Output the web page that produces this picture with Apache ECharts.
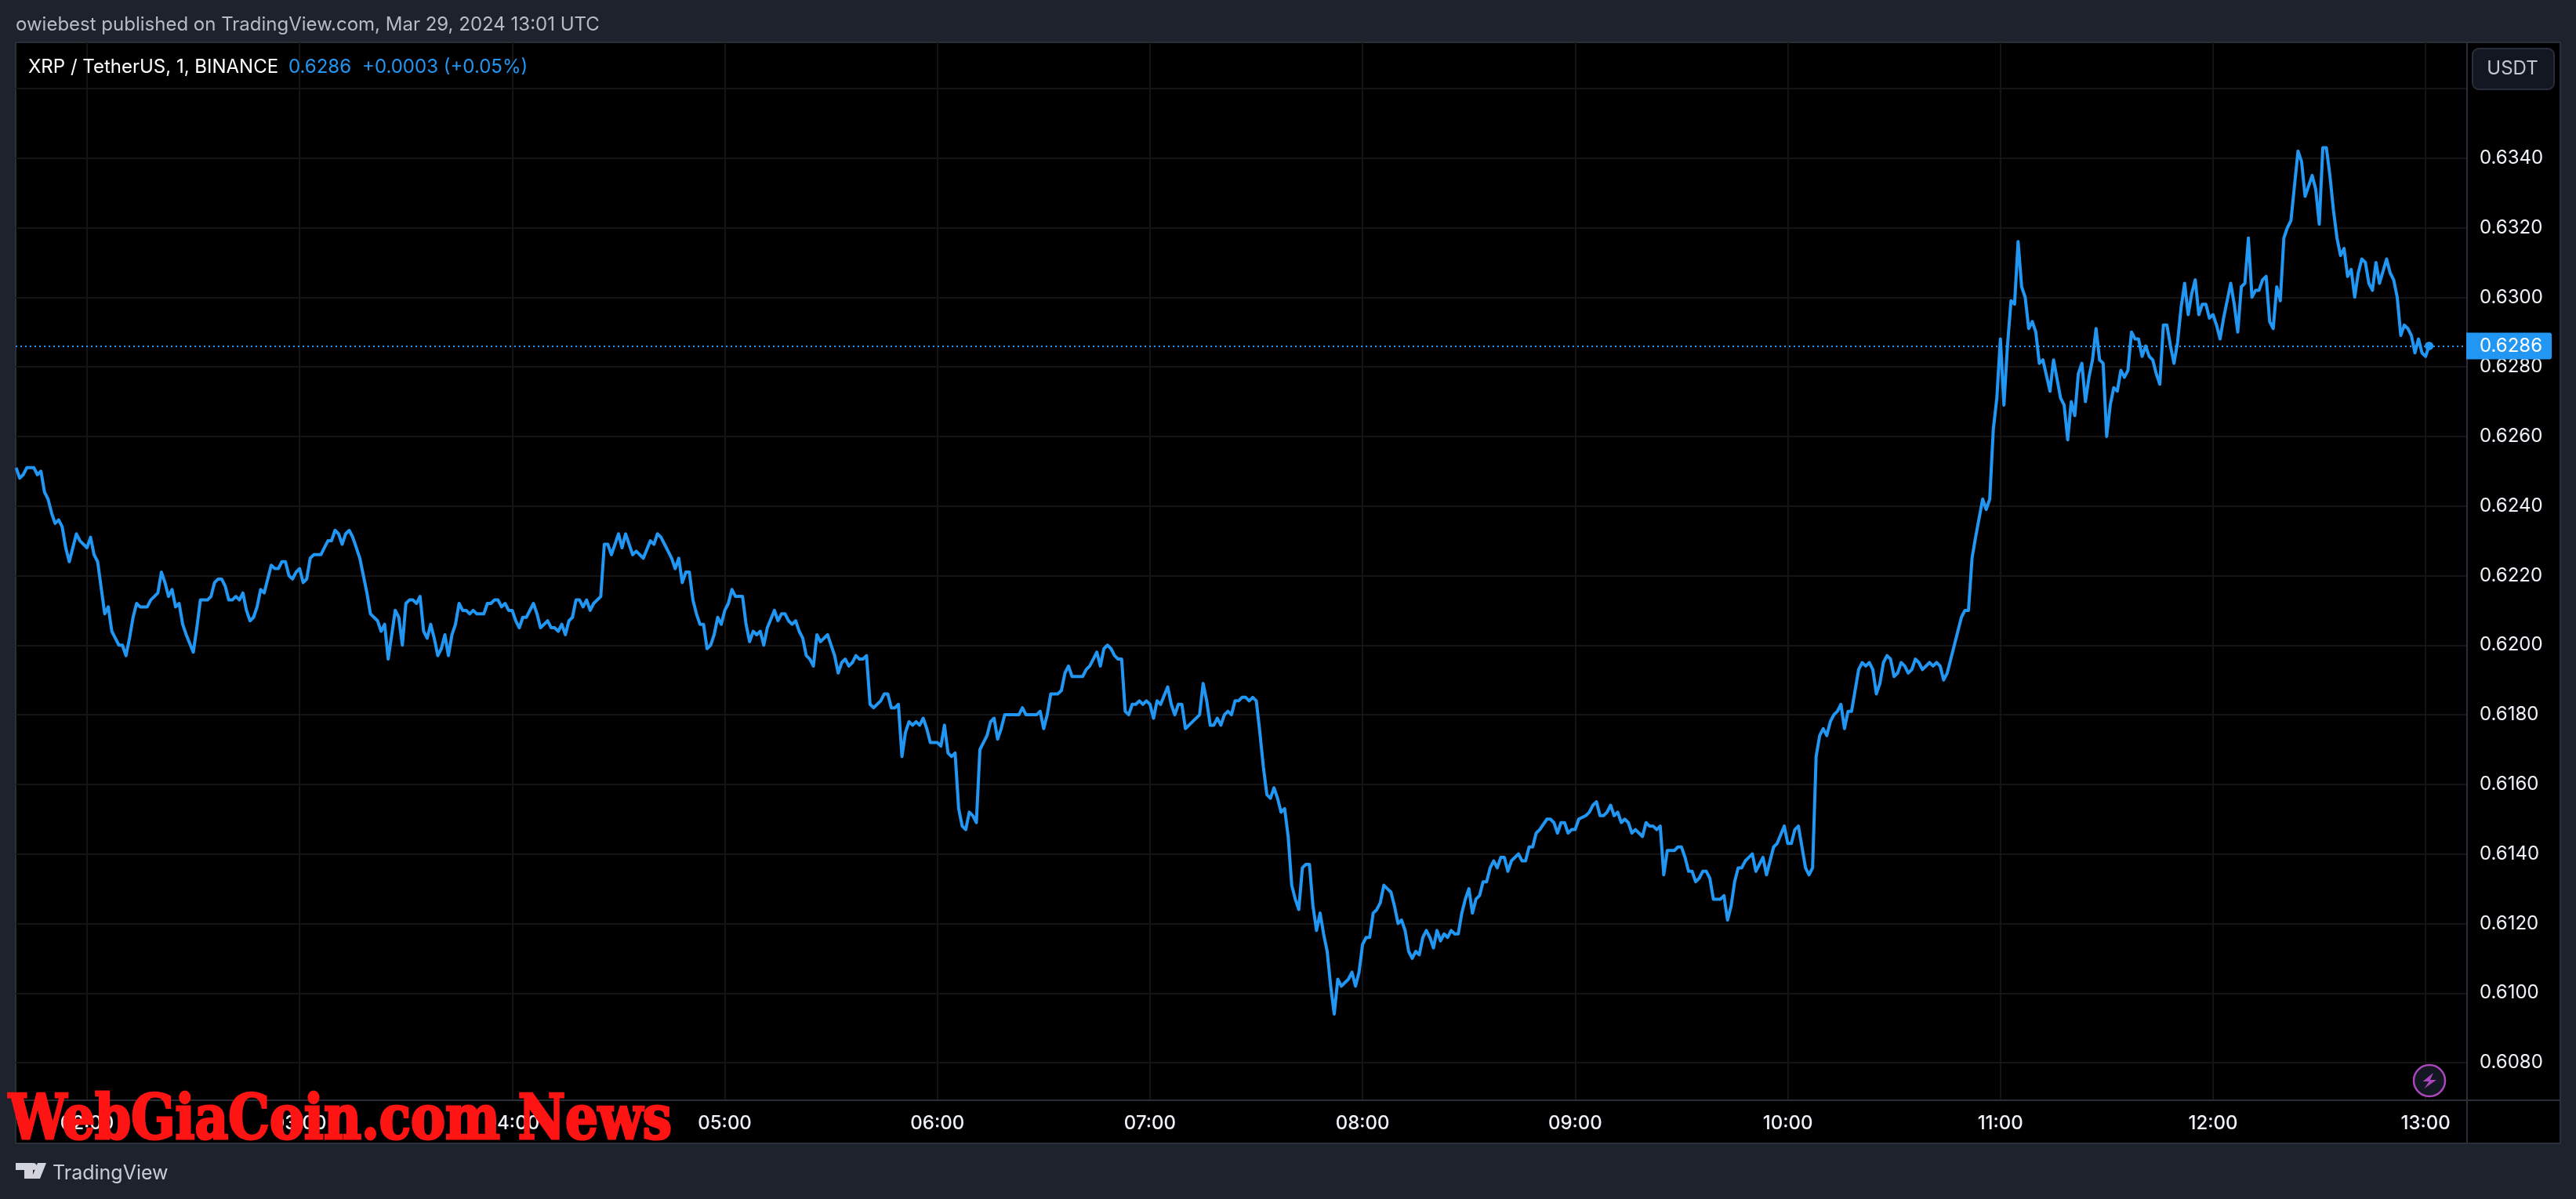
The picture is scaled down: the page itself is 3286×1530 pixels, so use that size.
<!DOCTYPE html>
<html>
<head>
<meta charset="utf-8">
<title>XRP / TetherUS</title>
<script src="https://cdn.jsdelivr.net/npm/echarts@6/dist/echarts.min.js"></script>
<style>
  html, body { margin: 0; padding: 0; background: #1e222d; }
  #chart { width: 3286px; height: 1530px; }
</style>
</head>
<body>
<div id="chart"></div>
<script>
// [minutes since 00:00, close]
const closes = [
  [100,.6251],[101,.6248],[102,.6249],[103,.6251],[105,.6251],[106,.6249],[107,.6250],[108,.6244],[109,.6242],[110,.6238],
  [111,.6235],[112,.6236],[113,.6234],[114,.6228],[115,.6224],[116,.6228],[117,.6232],[118,.6230],[119,.6229],[120,.6228],
  [121,.6231],[122,.6226],[123,.6224],[125,.6209],[126,.6211],[127,.6204],[128,.6202],[129,.6200],[130,.6200],[131,.6197],
  [132,.6202],[133,.6208],[134,.6212],[135,.6211],[137,.6211],[138,.6213],[140,.6215],[141,.6221],[142,.6218],[143,.6214],
  [144,.6216],[145,.6211],[146,.6212],[147,.6206],[148,.6203],[150,.6198],[151,.6205],[152,.6213],[154,.6213],[155,.6214],
  [156,.6218],[157,.6219],[158,.6219],[159,.6217],[160,.6213],[161,.6213],[162,.6214],[163,.6213],[164,.6215],[165,.6210],
  [166,.6207],[167,.6208],[168,.6211],[169,.6216],[170,.6215],[172,.6223],[173,.6222],[174,.6222],[175,.6224],[176,.6224],
  [177,.6220],[178,.6219],[179,.6221],[180,.6222],[181,.6218],[182,.6219],[183,.6225],[184,.6226],[186,.6226],[187,.6228],
  [188,.6230],[189,.6230],[190,.6233],[191,.6232],[192,.6229],[193,.6232],[194,.6233],[195,.6231],[196,.6228],[197,.6225],
  [198,.6220],[199,.6215],[200,.6209],[201,.6208],[202,.6207],[203,.6204],[204,.6206],[205,.6196],[207,.6210],[208,.6208],
  [209,.6200],[210,.6212],[211,.6213],[212,.6213],[213,.6212],[214,.6214],[215,.6204],[216,.6202],[217,.6206],[218,.6202],
  [219,.6197],[220,.6199],[221,.6203],[222,.6197],[223,.6203],[224,.6206],[225,.6212],[226,.6210],[227,.6210],[228,.6209],
  [229,.6210],[230,.6209],[232,.6209],[233,.6212],[234,.6212],[235,.6213],[236,.6213],[237,.6211],[238,.6212],[239,.6210],
  [240,.6210],[241,.6207],[242,.6205],[243,.6208],[244,.6208],[246,.6212],[247,.6209],[248,.6205],[250,.6207],[251,.6205],
  [252,.6205],[253,.6204],[254,.6206],[255,.6203],[256,.6207],[257,.6208],[258,.6213],[259,.6213],[260,.6211],[261,.6213],
  [262,.6210],[263,.6212],[265,.6214],[266,.6229],[267,.6229],[268,.6226],[269,.6229],[270,.6232],[271,.6228],[272,.6232],
  [274,.6226],[275,.6227],[277,.6225],[279,.6230],[280,.6229],[281,.6232],[282,.6231],[283,.6229],[285,.6225],[286,.6222],
  [287,.6225],[288,.6218],[289,.6221],[290,.6221],[291,.6213],[292,.6209],[293,.6206],[294,.6206],[295,.6199],[296,.6200],
  [297,.6203],[298,.6208],[299,.6206],[300,.6210],[301,.6212],[302,.6216],[303,.6214],[305,.6214],[306,.6206],[307,.6201],
  [308,.6204],[309,.6203],[310,.6204],[311,.6200],[312,.6205],[314,.6210],[315,.6207],[316,.6209],[317,.6209],[318,.6207],
  [319,.6206],[320,.6207],[321,.6204],[322,.6202],[323,.6197],[324,.6196],[325,.6194],[326,.6203],[327,.6201],[329,.6203],
  [331,.6197],[332,.6192],[333,.6195],[334,.6196],[335,.6194],[336,.6195],[337,.6197],[338,.6196],[339,.6196],[340,.6197],
  [341,.6183],[342,.6182],[344,.6184],[345,.6186],[346,.6186],[347,.6182],[348,.6182],[349,.6183],[350,.6168],[351,.6175],
  [352,.6178],[353,.6177],[354,.6178],[355,.6177],[356,.6179],[357,.6176],[358,.6172],[360,.6172],[361,.6171],[362,.6177],
  [363,.6169],[364,.6168],[365,.6169],[366,.6153],[367,.6148],[368,.6147],[369,.6152],[370,.6151],[371,.6149],[372,.6170],
  [373,.6172],[374,.6174],[375,.6178],[376,.6179],[377,.6173],[378,.6176],[379,.6180],[383,.6180],[384,.6182],[385,.6180],
  [388,.6180],[389,.6181],[390,.6176],[391,.6180],[392,.6186],[394,.6186],[395,.6187],[396,.6192],[397,.6194],[398,.6191],
  [401,.6191],[402,.6193],[403,.6194],[404,.6196],[405,.6198],[406,.6194],[407,.6199],[408,.6200],[409,.6199],[410,.6197],
  [411,.6196],[412,.6196],[413,.6181],[414,.6180],[415,.6183],[416,.6183],[417,.6184],[418,.6183],[419,.6184],[420,.6183],
  [421,.6179],[422,.6184],[423,.6183],[425,.6188],[426,.6183],[427,.6180],[428,.6183],[429,.6183],[430,.6176],[431,.6177],
  [434,.6180],[435,.6189],[436,.6184],[437,.6177],[438,.6177],[439,.6179],[440,.6177],[441,.6180],[442,.6181],[443,.6180],
  [444,.6184],[445,.6184],[446,.6185],[447,.6185],[448,.6184],[449,.6185],[450,.6184],[451,.6175],[452,.6165],[453,.6157],
  [454,.6156],[455,.6159],[456,.6156],[457,.6152],[458,.6153],[459,.6145],[460,.6131],[461,.6127],[462,.6124],[463,.6136],
  [464,.6137],[465,.6137],[466,.6125],[467,.6118],[468,.6123],[469,.6117],[470,.6112],[471,.6102],[472,.6094],[473,.6104],
  [474,.6102],[476,.6104],[477,.6106],[478,.6102],[479,.6106],[480,.6114],[481,.6116],[482,.6116],[483,.6123],[484,.6124],
  [485,.6126],[486,.6131],[487,.6130],[488,.6129],[489,.6125],[490,.6120],[491,.6121],[492,.6118],[493,.6112],[494,.6110],
  [495,.6112],[496,.6111],[497,.6116],[498,.6118],[499,.6116],[500,.6113],[501,.6118],[502,.6115],[503,.6117],[504,.6116],
  [505,.6118],[506,.6117],[507,.6117],[508,.6123],[509,.6127],[510,.6130],[511,.6123],[512,.6127],[513,.6128],[514,.6132],
  [515,.6132],[516,.6136],[517,.6138],[518,.6136],[519,.6139],[520,.6139],[521,.6135],[522,.6138],[524,.6140],[525,.6138],
  [526,.6138],[527,.6142],[528,.6142],[529,.6146],[530,.6147],[532,.6150],[533,.6150],[534,.6149],[535,.6146],[536,.6149],
  [537,.6149],[538,.6146],[539,.6147],[540,.6147],[541,.6150],[543,.6151],[544,.6152],[545,.6154],[546,.6155],[547,.6151],
  [548,.6151],[549,.6152],[550,.6154],[551,.6151],[552,.6152],[553,.6149],[554,.6150],[555,.6149],[556,.6146],[557,.6147],
  [558,.6146],[559,.6145],[560,.6149],[561,.6148],[562,.6148],[563,.6147],[564,.6148],[565,.6134],[566,.6141],[568,.6141],
  [569,.6142],[570,.6142],[571,.6139],[572,.6135],[573,.6135],[574,.6132],[575,.6133],[576,.6135],[577,.6135],[578,.6133],
  [579,.6127],[581,.6127],[582,.6128],[583,.6121],[584,.6125],[585,.6132],[586,.6136],[587,.6136],[588,.6138],[589,.6139],
  [590,.6140],[591,.6135],[593,.6139],[594,.6134],[596,.6142],[597,.6143],[599,.6148],[600,.6143],[601,.6143],[602,.6147],
  [603,.6148],[604,.6142],[605,.6136],[606,.6134],[607,.6136],[608,.6168],[609,.6174],[610,.6176],[611,.6174],[612,.6178],
  [613,.6180],[614,.6181],[615,.6183],[616,.6176],[617,.6181],[618,.6181],[620,.6193],[621,.6195],[622,.6194],[623,.6195],
  [624,.6193],[625,.6186],[626,.6189],[627,.6195],[628,.6197],[629,.6196],[630,.6191],[631,.6192],[632,.6195],[633,.6194],
  [634,.6192],[635,.6193],[636,.6196],[637,.6195],[638,.6193],[640,.6195],[641,.6194],[642,.6195],[643,.6194],[644,.6190],
  [645,.6192],[646,.6196],[648,.6204],[649,.6208],[650,.6210],[651,.6210],[652,.6225],[653,.6231],[655,.6242],[656,.6239],
  [657,.6242],[658,.6262],[659,.6271],[660,.6288],[661,.6269],[662,.6286],[663,.6299],[664,.6298],[665,.6316],[666,.6303],
  [667,.6300],[668,.6291],[669,.6293],[670,.6290],[671,.6281],[672,.6282],[674,.6273],[675,.6282],[677,.6271],[678,.6269],
  [679,.6259],[680,.6270],[681,.6266],[682,.6278],[683,.6281],[684,.6270],[685,.6277],[686,.6282],[687,.6291],[688,.6282],
  [689,.6281],[690,.6260],[691,.6269],[692,.6274],[693,.6273],[694,.6279],[695,.6277],[696,.6279],[697,.6290],[698,.6288],
  [699,.6288],[700,.6283],[701,.6286],[702,.6283],[703,.6282],[704,.6278],[705,.6275],[706,.6292],[707,.6292],[708,.6286],
  [709,.6281],[710,.6287],[711,.6297],[712,.6304],[713,.6295],[714,.6301],[715,.6305],[716,.6295],[717,.6298],[718,.6298],
  [719,.6294],[720,.6295],[721,.6292],[722,.6288],[723,.6294],[725,.6304],[726,.6298],[727,.6290],[728,.6303],[729,.6304],
  [730,.6317],[731,.6300],[732,.6302],[733,.6302],[734,.6305],[735,.6306],[736,.6293],[737,.6291],[738,.6303],[739,.6299],
  [740,.6317],[741,.6320],[742,.6322],[744,.6342],[745,.6339],[746,.6329],[747,.6332],[748,.6335],[749,.6331],[750,.6321],
  [751,.6343],[752,.6343],[753,.6335],[754,.6325],[755,.6317],[756,.6312],[757,.6314],[758,.6306],[759,.6308],[760,.6300],
  [761,.6307],[762,.6311],[763,.6310],[764,.6304],[765,.6302],[766,.6310],[767,.6304],[769,.6311],[770,.6307],[771,.6305],
  [772,.6300],[773,.6289],[774,.6292],[775,.6291],[776,.6289],[777,.6284],[778,.6288],[779,.6284],[780,.6283],[781,.6286]
];
const hourTicks = [120, 180, 240, 300, 360, 420, 480, 540, 600, 660, 720, 780];
const priceTicks = [.608, .61, .612, .614, .616, .618, .62, .622, .624, .626, .628, .63, .632, .634, .636];
const lastPrice = .6286;
const lastMinute = 781;

const BLUE = '#2196f3';
const GRID = '#141414';
const BORDER = '#2a2e39';
const FONT = 'Inter';

const pad = (n) => String(n).padStart(2, '0');

function headerText(x, y, text, fill, fontSize, extra) {
  return {
    type: 'text',
    z: 60,
    x,
    y,
    style: Object.assign({
      text,
      fill,
      font: `400 ${fontSize}px ${FONT}`,
      textVerticalAlign: 'middle',
    }, extra),
  };
}

let chart = echarts.init(document.getElementById('chart'), null, { renderer: 'canvas' });

let option = {
  animation: false,
  backgroundColor: '#1e222d',
  grid: { left: 20, right: 139, top: 54, bottom: 126 },
  xAxis: {
    type: 'value',
    min: 99.87,
    max: 791.7,
    axisLine: { show: false },
    axisTick: { show: false, customValues: hourTicks },
    splitLine: { show: true, lineStyle: { color: GRID, width: 2 } },
    axisLabel: {
      customValues: hourTicks,
      color: '#f0f3fa',
      fontFamily: FONT,
      fontWeight: 500,
      fontSize: 24,
      margin: 18,
      formatter: (v) => `${pad(Math.floor(v / 60))}:00`,
    },
  },
  yAxis: {
    type: 'value',
    position: 'right',
    min: 0.60692,
    max: 0.637327,
    axisLine: { show: false },
    axisTick: { show: false, customValues: priceTicks },
    splitLine: { show: true, lineStyle: { color: GRID, width: 2 } },
    axisLabel: {
      customValues: priceTicks,
      color: '#f0f3fa',
      fontFamily: FONT,
      fontSize: 24,
      margin: 16,
      padding: [3, 0, 0, 0],
      formatter: (v) => v.toFixed(4),
    },
  },
  series: [
    {
      type: 'line',
      data: closes,
      showSymbol: false,
      smooth: false,
      lineStyle: { color: BLUE, width: 4, join: 'round' },
      itemStyle: { color: BLUE },
      markLine: {
        silent: true,
        symbol: 'none',
        animation: false,
        precision: 4,
        lineStyle: { color: BLUE, width: 2, type: [2, 4] },
        label: {
          show: true,
          position: 'end',
          distance: -1,
          formatter: () => lastPrice.toFixed(4),
          color: '#ffffff',
          fontFamily: FONT,
          fontSize: 24,
          backgroundColor: BLUE,
          borderRadius: [0, 3, 3, 0],
          padding: [5, 12, 5, 17],
        },
        data: [{ yAxis: lastPrice }],
      },
      markPoint: {
        silent: true,
        symbol: 'circle',
        symbolSize: 11,
        itemStyle: { color: BLUE },
        label: { show: false },
        data: [{ coord: [lastMinute, lastPrice] }],
      },
    },
  ],
  graphic: [
    // panel behind the plot and both axes
    {
      type: 'rect',
      z: -1,
      shape: { x: 20, y: 54, width: 3246, height: 1405 },
      style: { fill: '#000000', stroke: BORDER, lineWidth: 2 },
    },
    { type: 'line', z: 1, shape: { x1: 3147, y1: 54, x2: 3147, y2: 1459 }, style: { stroke: BORDER, lineWidth: 2 } },
    { type: 'line', z: 1, shape: { x1: 20, y1: 1404, x2: 3266, y2: 1404 }, style: { stroke: BORDER, lineWidth: 2 } },

    headerText(20, 32, 'owiebest published on TradingView.com, Mar 29, 2024 13:01 UTC', '#b8bac6', 24),
    headerText(36, 86, 'XRP / TetherUS, 1, BINANCE', '#ffffff', 24),
    headerText(368, 86, '0.6286', BLUE, 24),
    headerText(462, 86, '+0.0003 (+0.05%)', BLUE, 24),

    // USDT button sits over the top price label
    { type: 'rect', z: 50, shape: { x: 3149, y: 56, width: 116, height: 65 }, style: { fill: '#000000' } },
    {
      type: 'rect',
      z: 51,
      shape: { x: 3154, y: 62, width: 104, height: 52, r: 8 },
      style: { fill: '#131722', stroke: BORDER, lineWidth: 2 },
    },
    headerText(3205, 88, 'USDT', '#c3c6d0', 24, { textAlign: 'center' }),

    // replay badge
    {
      type: 'circle',
      z: 50,
      shape: { cx: 3099, cy: 1379, r: 20 },
      style: { fill: '#131722', stroke: '#ab47bc', lineWidth: 2.5, shadowBlur: 0 },
    },
    {
      type: 'polygon',
      z: 51,
      shape: { points: [[3104, 1369], [3090.5, 1380], [3098.5, 1380], [3092.5, 1389], [3108, 1378], [3100, 1378]] },
      style: { fill: '#ab47bc' },
    },

    // TradingView mark
    {
      type: 'polygon',
      z: 50,
      shape: { points: [[20, 1484], [42, 1484], [42, 1504], [31, 1504], [31, 1493], [20, 1493]] },
      style: { fill: '#d1d4dc' },
    },
    { type: 'circle', z: 50, shape: { cx: 42.5, cy: 1488.5, r: 4.5 }, style: { fill: '#d1d4dc' } },
    {
      type: 'polygon',
      z: 50,
      shape: { points: [[48, 1484], [59, 1484], [51, 1504], [40, 1504]] },
      style: { fill: '#d1d4dc' },
    },
    headerText(67, 1497, 'TradingView', '#c9cbd6', 25),

    // stamped over the time axis in the source image
    {
      type: 'text',
      z: 70,
      x: 11,
      y: 1433,
      scaleX: 0.94,
      style: {
        text: 'WebGiaCoin.com News',
        fill: '#ff1414',
        stroke: '#ff1414',
        lineWidth: 3,
        font: 'bold 78px "DejaVu Serif Condensed"',
        textVerticalAlign: 'middle',
      },
    },
  ],
};

option && chart.setOption(option);
</script>
</body>
</html>
